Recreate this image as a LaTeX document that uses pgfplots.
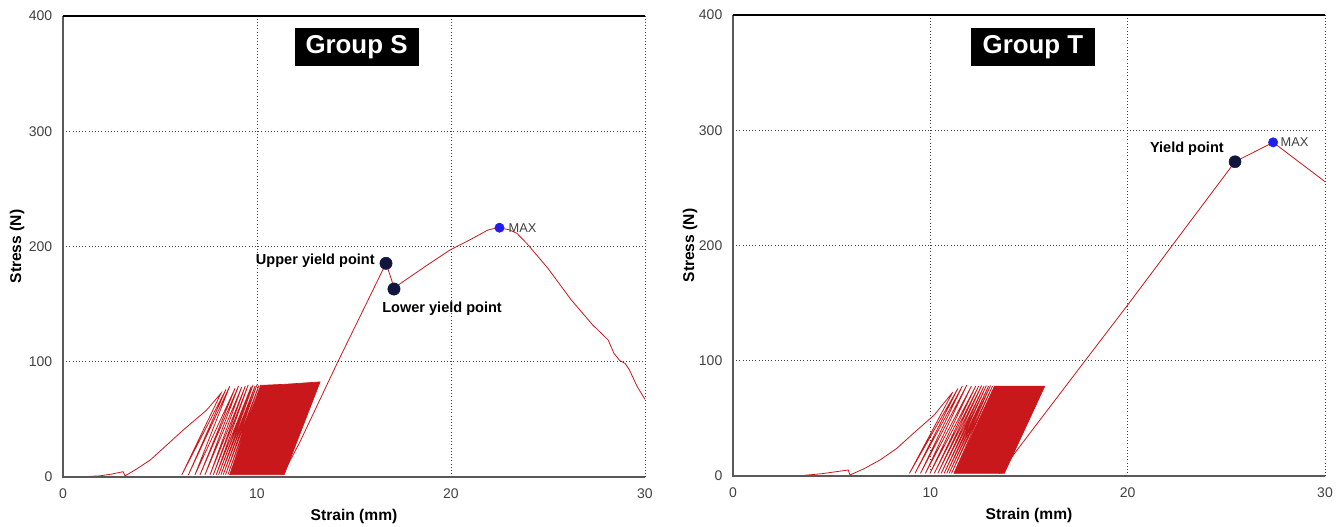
\documentclass[border=0pt]{standalone}
\usepackage{fontspec}
\setmainfont{Liberation Sans}
\usepackage{pgfplots}
\pgfplotsset{compat=1.18}
\definecolor{cred}{HTML}{C8181C}
\definecolor{cnavy}{HTML}{12163F}
\definecolor{cblue}{HTML}{1E1EF0}
\pgfplotsset{
  commonstyle/.style={
    scale only axis, clip=false,
    xmin=0, xmax=30, ymin=0, ymax=400,
    xtick={0,10,20,30}, ytick={0,100,200,300,400},
    grid=major, major grid style={black!75, dotted, line width=0.6pt},
    major tick length=0pt,
    axis line style={draw=none},
    tick label style={font=\fontsize{10.5}{12}\selectfont, text=black!75},
    /pgf/number format/assume math mode=true,
    yticklabel style={xshift=-4.5pt},
    xticklabel style={yshift=-5pt},
    xlabel={Strain (mm)}, ylabel={Stress (N)},
    label style={font=\bfseries\fontsize{11.7}{13}\selectfont},
    x label style={at={(axis description cs:0.5,-0.0846)}, anchor=center},
  }
}
\begin{document}
\begin{tikzpicture}
\useasboundingbox (0,0) rectangle (1004.25pt,394.5pt);

% ---------------- Group S ----------------
\begin{axis}[commonstyle, at={(47.25pt,36.75pt)}, anchor=south west,
  width=436.5pt, height=345.75pt,
  y label style={at={(axis description cs:-0.079,0.5)}, anchor=center}]
% initial loading and sparse cycles
\addplot[cred, line width=0.6pt] coordinates {
(0,0.5) (1.3,0.5) (1.9,1) (2.5,2.5) (3.1,4.6) (3.2,1) (3.8,7) (4.5,14.8) (5.3,27) (6.2,40.8) (7.4,58) (8.14,72.6)
(6.12,1.7) (8.4,76) (6.46,1.7) (8.6,79) (6.8,1.8) (8.87,77) (7.06,1.8) (9.05,79) (7.32,2) (9.21,78)
(7.58,2) (9.4,79) (7.75,2) (9.55,80) (7.9,2) (9.7,78.5) (8.02,2) (9.8,80) (8.14,2) (9.9,79)
(8.26,2) (10.0,80) (8.38,2) (10.1,79.5) (8.5,2) (10.2,80) (8.6,2)
};
% dense cycles
\addplot[cred, fill=cred, line width=0.5pt] coordinates {
(8.6,2) (11.4,2) (13.25,82.5) (11.5,80.5) (10.2,79.5)
} -- cycle;
% final loading
\addplot[cred, line width=0.6pt] coordinates {
(11.32,2) (12.2,30) (14.14,99) (16.65,185.4) (16.8,178) (16.94,171) (17.06,163.1) (17.4,168) (18.7,183) (19.95,197) (21.0,206) (21.9,214.3) (22.2,215.5) (22.5,216.3) (23.0,214.5) (23.4,211.4) (23.9,202.8) (25.0,181) (26.2,153.6) (27.3,132) (28.1,118.9) (28.4,107.3) (28.7,101) (28.97,98.6) (29.2,92.8) (29.6,78.4) (30,67.4)
};
\addplot[only marks, mark=*, mark size=4.6pt, color=cnavy] coordinates {(16.65,185.4) (17.06,163.1)};
\addplot[only marks, mark=*, mark size=3.5pt, color=cblue] coordinates {(22.5,216.3)};
\node[anchor=east, font=\bfseries\fontsize{10.9}{12}\selectfont, inner sep=0pt] at (axis cs:16.08,187.7) {Upper yield point};
\node[anchor=center, font=\bfseries\fontsize{10.9}{12}\selectfont, inner sep=0pt] at (axis cs:19.54,146.4) {Lower yield point};
\node[anchor=west, font=\fontsize{9.6}{11}\selectfont, text=black!75, inner sep=0pt] at (axis cs:22.96,216.3) {MAX};
\node[fill=black, text=white, font=\bfseries\fontsize{19.4}{21}\selectfont, minimum width=93pt, minimum height=28.5pt, inner sep=0pt] at (axis cs:15.13,373) {Group S};
\draw[black!65, line width=1.5pt] (rel axis cs:0,1) -- (rel axis cs:0,0) -- (rel axis cs:1,0);
\draw[black, line width=0.8pt] (rel axis cs:0,1) -- (rel axis cs:1,1);
\end{axis}

% ---------------- Group T ----------------
\begin{axis}[commonstyle, at={(549.75pt,37.5pt)}, anchor=south west,
  width=444pt, height=345.75pt,
  y label style={at={(axis description cs:-0.0726,0.5)}, anchor=center}]
\addplot[cred, line width=0.6pt] coordinates {
(0,0.5) (3.56,0.5) (4.5,2) (5.84,5.2) (5.93,0.9) (6.6,6) (7.45,13.9) (8.3,24) (9.14,37) (10.2,53) (11.13,72.6)
(8.94,2.3) (11.4,76) (9.22,2.3) (11.62,78) (9.5,2.3) (11.85,79) (9.75,2.3) (12.08,78) (9.98,2.3) (12.3,78)
(10.2,2.3) (12.45,78) (10.38,2.3) (12.6,78.5) (10.55,2.3) (12.72,78) (10.7,2.3) (12.84,78.5) (10.83,2.3) (12.95,78)
(10.95,2.3) (13.05,78.5) (11.07,2.3) (13.15,78) (11.2,2.3)
};
\addplot[cred, fill=cred, line width=0.5pt] coordinates {
(11.2,2.3) (13.75,2.3) (15.8,78) (13.25,78)
} -- cycle;
\addplot[cred, line width=0.6pt] coordinates {
(13.5,2) (14.46,24) (17.84,100) (20,148.4) (25.44,272.7) (27.37,289.5) (30,255.4)
};
\addplot[only marks, mark=*, mark size=4.5pt, color=cnavy] coordinates {(25.44,272.7)};
\addplot[only marks, mark=*, mark size=3.5pt, color=cblue] coordinates {(27.37,289.5)};
\node[anchor=center, font=\bfseries\fontsize{10.9}{12}\selectfont, inner sep=0pt] at (axis cs:23.0,283.7) {Yield point};
\node[anchor=west, font=\fontsize{9.6}{11}\selectfont, text=black!75, inner sep=0pt] at (axis cs:27.74,289.5) {MAX};
\node[fill=black, text=white, font=\bfseries\fontsize{19.4}{21}\selectfont, minimum width=93pt, minimum height=28.5pt, inner sep=0pt] at (axis cs:15.2,372.2) {Group T};
\draw[black!65, line width=1.5pt] (rel axis cs:0,1) -- (rel axis cs:0,0) -- (rel axis cs:1,0);
\draw[black, line width=0.8pt] (rel axis cs:0,1) -- (rel axis cs:1,1);
\end{axis}
\end{tikzpicture}
\end{document}
